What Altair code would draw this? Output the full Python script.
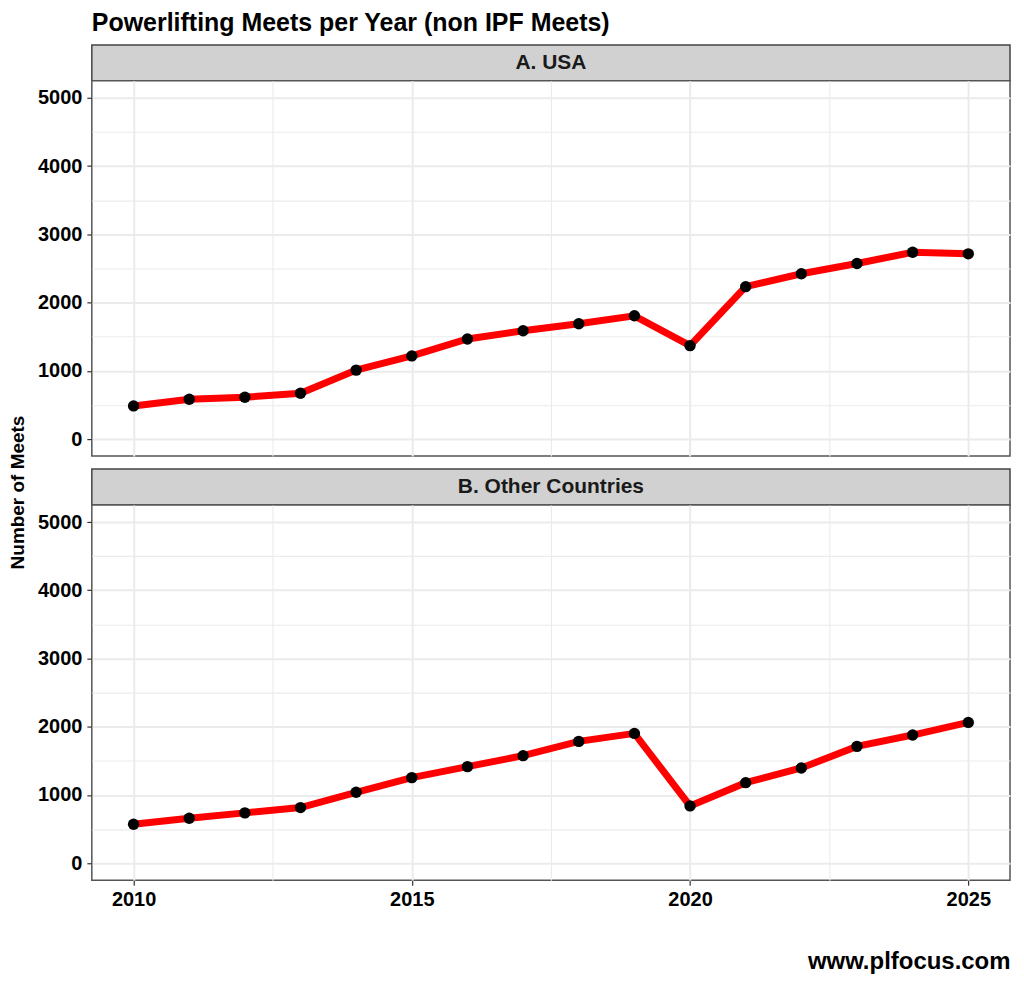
import altair as alt
import pandas as pd

years = list(range(2010, 2026))
usa = [485, 583, 612, 670, 1010, 1218, 1466, 1587, 1689, 1806, 1369, 2233, 2422, 2573, 2738, 2714]
other = [571, 659, 737, 815, 1039, 1254, 1415, 1576, 1785, 1902, 839, 1180, 1395, 1712, 1878, 2063]
panel_labels = ["A. USA", "B. Other Countries"]
x_grid = [2010, 2012.5, 2015, 2017.5, 2020, 2022.5, 2025]
y_grid = [0, 500, 1000, 1500, 2000, 2500, 3000, 3500, 4000, 4500, 5000]

FONT = "Liberation Sans"
W = 920
H = 376

def xaxis(show_labels, title=None):
    kw = dict(
        values=x_grid,
        format="d",
        labelExpr="datum.value % 5 == 0 ? datum.label : ''",
        labels=show_labels,
        ticks=show_labels,
        tickColor=alt.condition("datum.value % 5 == 0", alt.value("#333333"), alt.value("rgba(0,0,0,0)")),
        tickSize=5,
        tickWidth=1.2,
        gridColor="#EBEBEB",
        gridWidth=alt.condition("datum.value % 5 == 0", alt.value(2), alt.value(1.1)),
        domain=False,
        labelFont=FONT,
        labelFontSize=20,
        labelFontWeight="bold",
        labelColor="#000000",
        labelPadding=4,
    )
    if title:
        kw.update(
            title=title,
            titleFont=FONT,
            titleFontSize=24,
            titleFontWeight="bold",
            titleColor="#000000",
            titleAnchor="end",
            titleAlign="right",
            titlePadding=40,
        )
    else:
        kw["title"] = None
    return alt.Axis(**kw)

def yaxis(title=None):
    kw = dict(
        values=y_grid,
        format="d",
        labelExpr="datum.value % 1000 == 0 ? datum.label : ''",
        tickColor=alt.condition("datum.value % 1000 == 0", alt.value("#333333"), alt.value("rgba(0,0,0,0)")),
        tickSize=5,
        tickWidth=1.2,
        gridColor="#EBEBEB",
        gridWidth=alt.condition("datum.value % 1000 == 0", alt.value(2), alt.value(1.1)),
        domain=False,
        labelFont=FONT,
        labelFontSize=20,
        labelFontWeight="bold",
        labelColor="#000000",
        labelPadding=5,
    )
    if title:
        kw.update(
            title=title,
            titleFont=FONT,
            titleFontSize=19,
            titleFontWeight="bold",
            titleColor="#000000",
            titleY=412,
            titleX=-64,
        )
    else:
        kw["title"] = None
    return alt.Axis(**kw)

def plot_panel(values, bottom):
    df = pd.DataFrame({"year": years, "meets": values})
    x = alt.X("year:Q", scale=alt.Scale(domain=[2009.25, 2025.75], nice=False, zero=False),
              axis=xaxis(bottom, "www.plfocus.com" if bottom else None))
    y = alt.Y("meets:Q", scale=alt.Scale(domain=[-250, 5250], nice=False, zero=False),
              axis=yaxis(None if bottom else "Number of Meets"))
    base = alt.Chart(df).encode(x=x, y=y)
    line = base.mark_line(color="#FF0000", strokeWidth=7)
    pts = base.mark_circle(color="#000000", size=130, opacity=1)
    return (line + pts).properties(
        width=W, height=H,
        view=alt.ViewBackground(fill="white", stroke="#555555", strokeWidth=1.5),
    )

def strip_panel(label):
    sdf = pd.DataFrame({"label": [label]})
    return alt.Chart(sdf).mark_text(
        font=FONT, fontSize=21, fontWeight="bold", color="#1a1a1a", baseline="middle", align="center"
    ).encode(
        text="label:N", x=alt.value(W / 2), y=alt.value(18)
    ).properties(
        width=W, height=36,
        view=alt.ViewBackground(fill="#D1D1D1", stroke="#444444", strokeWidth=1.5),
    )

spacer = alt.Chart(pd.DataFrame({"label": [""]})).mark_text(opacity=0).encode(
    text="label:N", x=alt.value(0), y=alt.value(0)
).properties(
    width=W, height=13,
    view=alt.ViewBackground(fill="transparent", stroke="transparent"),
)

chart = alt.vconcat(
    strip_panel(panel_labels[0]),
    plot_panel(usa, False),
    spacer,
    strip_panel(panel_labels[1]),
    plot_panel(other, True),
    spacing=0,
    bounds="flush",
).properties(
    title=alt.Title(
        "Powerlifting Meets per Year (non IPF Meets)",
        anchor="start", frame="group", font=FONT, fontSize=25, fontWeight="bold", color="#000000", offset=8,
    ),
    background="white",
    padding={"left": 0, "top": 2, "right": 5, "bottom": 5},
)

chart.save("out.html", embed_options={"renderer": "svg", "actions": False})
